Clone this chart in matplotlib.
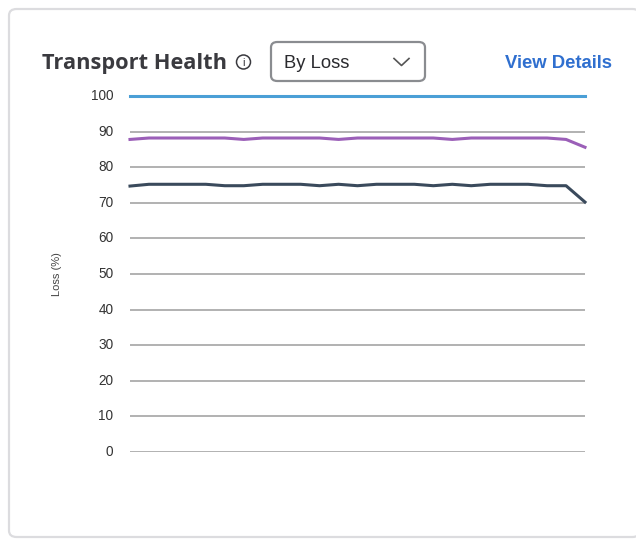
import matplotlib.pyplot as plt
import numpy as np
from matplotlib.patches import FancyBboxPatch, Circle
from matplotlib.lines import Line2D

# series values (Loss %), 25 samples each
blue = [100] * 25
purple = [87.8, 88.2, 88.2, 88.2, 88.2, 88.2, 87.8, 88.2, 88.2, 88.2, 88.2, 87.8, 88.2,
          88.2, 88.2, 88.2, 88.2, 87.8, 88.2, 88.2, 88.2, 88.2, 88.2, 87.8, 85.6]
dark = [74.7, 75.2, 75.2, 75.2, 75.2, 74.8, 74.8, 75.2, 75.2, 75.2, 74.8, 75.2, 74.8,
        75.2, 75.2, 75.2, 74.8, 75.2, 74.8, 75.2, 75.2, 75.2, 74.8, 74.8, 70.2]
yticks = [0, 10, 20, 30, 40, 50, 60, 70, 80, 90, 100]

W, H = 636, 540
fig = plt.figure(figsize=(W / 100, H / 100), dpi=100)
fig.patch.set_facecolor('white')

def fx(px):
    return px / W

def fy(py):
    return 1 - py / H

# card outline
card = FancyBboxPatch((fx(9), fy(537)), fx(640) - fx(9), fy(9) - fy(537),
                      boxstyle='round,pad=0,rounding_size=0.012',
                      transform=fig.transFigure, facecolor='white',
                      edgecolor='#dcdcdf', linewidth=1.6, zorder=-5)
fig.patches.append(card)

# chart area
ax = fig.add_axes([fx(130), fy(452), fx(585) - fx(130), fy(96) - fy(452)])
ax.set_zorder(2)
ax.patch.set_visible(False)
x = np.arange(len(blue))
ax.plot(x, blue, color='#4b9fd6', linewidth=2.2, clip_on=False, zorder=3)
ax.plot(x, purple, color='#9b5fb8', linewidth=2.2, clip_on=False, zorder=3)
ax.plot(x, dark, color='#3a4a5c', linewidth=2.2, clip_on=False, zorder=3)

ax.set_xlim(0, len(blue) - 1)
ax.set_ylim(0, 100)
ax.set_yticks(yticks)
ax.set_xticks([])
ax.grid(axis='y', color='#9c9c9c', linewidth=1.1)
ax.set_axisbelow(True)
for s in ax.spines.values():
    s.set_visible(False)
ax.tick_params(axis='y', length=0, pad=12, labelsize=9.8, labelcolor='#333333')
for t in ax.get_yticklabels():
    t.set_family('Liberation Sans')
    t.set_va('center')
ax.set_ylabel('Loss (%)', fontsize=8, color='#444444', family='Liberation Sans', labelpad=21)

# header
fig.text(fx(42), fy(63), 'Transport Health', fontsize=15.7, fontweight='bold',
         color='#3a3a3f', family='Open Sans', va='center', ha='left')
# info icon
circ = Circle((2.435, (H - 62) / 100), 0.07, transform=fig.dpi_scale_trans, fill=False,
              edgecolor='#3a3a3f', linewidth=1.1)
fig.patches.append(circ)
fig.text(fx(243.5), fy(62.5), 'i', fontsize=8, color='#3a3a3f', family='Liberation Sans',
         ha='center', va='center')

# dropdown
dd = FancyBboxPatch((fx(271), fy(81)), fx(425) - fx(271), fy(42) - fy(81),
                    boxstyle='round,pad=0,rounding_size=0.01',
                    transform=fig.transFigure, facecolor='white',
                    edgecolor='#8a8c90', linewidth=1.6)
fig.patches.append(dd)
fig.text(fx(284), fy(63), 'By Loss', fontsize=13.2, color='#2a2a2e',
         family='Liberation Sans', va='center', ha='left')
fig.lines.append(Line2D([fx(394), fx(401.5), fx(409)], [fy(58.5), fy(65.5), fy(58.5)],
                        transform=fig.transFigure, color='#555555', linewidth=1.2))

fig.text(fx(612), fy(63), 'View Details', fontsize=13.3, fontweight='bold',
         color='#2f6fcf', family='Liberation Sans', va='center', ha='right')

fig.savefig('out.png', dpi=100)
